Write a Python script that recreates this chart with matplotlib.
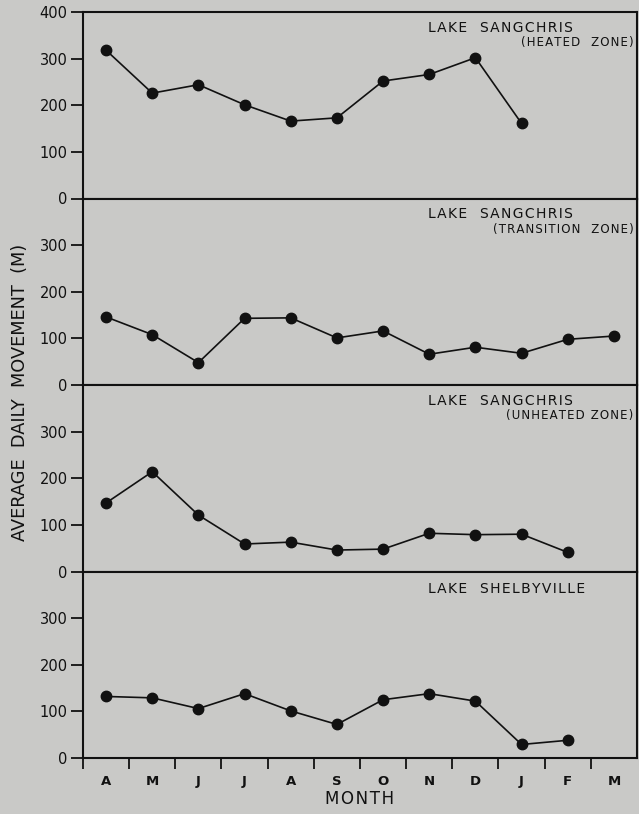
import matplotlib
matplotlib.use("Agg")
import matplotlib.pyplot as plt
import numpy as np

months = ["A", "M", "J", "J", "A", "S", "O", "N", "D", "J", "F", "M"]

heated = [318, 226, 244, 201, 166, 173, 252, 266, 302, 161]
transition = [146, 108, 48, 143, 144, 101, 116, 66, 81, 68, 98, 105]
unheated = [147, 214, 121, 59, 63, 46, 48, 82, 79, 80, 41]
shelbyville = [132, 129, 106, 138, 101, 72, 125, 138, 122, 29, 38]

panel_titles = [
    ("LAKE  SANGCHRIS", "(HEATED  ZONE)"),
    ("LAKE  SANGCHRIS", "(TRANSITION  ZONE)"),
    ("LAKE  SANGCHRIS", "(UNHEATED ZONE)"),
    ("LAKE  SHELBYVILLE", None),
]
series = [heated, transition, unheated, shelbyville]

bg = "#c9c9c7"
ink = "#111111"
plt.rcParams["font.family"] = ["DejaVu Sans"]


def spaced(s):
    # open up the lettering a little with hair spaces
    return "\u200a".join(s)


fig = plt.figure(figsize=(6.39, 8.14), dpi=100, facecolor=bg)
left, right = 83 / 639, 637 / 639
top, bottom = 1 - 12 / 814, 1 - 758 / 814
h = (top - bottom) / 4

axes = []
for i, vals in enumerate(series):
    y0 = top - (i + 1) * h
    ax = fig.add_axes([left, y0, right - left, h], facecolor=bg)
    axes.append(ax)
    x = np.arange(len(vals))
    ax.plot(x, vals, color=ink, lw=1.2, marker="o", ms=7.5,
            markerfacecolor=ink, markeredgecolor=ink)
    ax.set_xlim(-0.5, 11.5)
    ax.set_ylim(0, 400)
    ticks = [0, 100, 200, 300, 400] if i == 0 else [0, 100, 200, 300]
    ax.set_yticks(ticks)
    ax.set_yticklabels([str(t) for t in ticks], fontsize=10.5)
    ax.tick_params(axis="y", direction="out", length=9, width=1.3,
                   colors=ink, pad=2)
    for s in ax.spines.values():
        s.set_color(ink)
        s.set_linewidth(1.5)
    if i < 3:
        ax.set_xticks([])
    else:
        ax.set_xticks(np.arange(-0.5, 11.5, 1.0))
        ax.set_xticklabels([])
        ax.set_xticks(np.arange(12), minor=True)
        ax.set_xticklabels(months, minor=True, fontsize=9.5, fontweight="bold")
        ax.tick_params(axis="x", which="major", direction="out", length=8,
                       width=1.3, colors=ink)
        ax.tick_params(axis="x", which="minor", length=0, pad=12, colors=ink)
        ax.set_xlabel(spaced("MONTH"), fontsize=12, color=ink, labelpad=2)

for i, (t1, t2) in enumerate(panel_titles):
    ax = axes[i]
    ax.text(0.6225, 0.915 if t2 else 0.905, spaced(t1), transform=ax.transAxes,
            fontsize=10, color=ink, ha="left", va="center")
    if t2:
        ax.text(0.9935, 0.835, spaced(t2), transform=ax.transAxes,
                fontsize=8.5, color=ink, ha="right", va="center")

fig.text(20 / 639, 1 - 392 / 814, "AVERAGE  DAILY  MOVEMENT  (M)",
         rotation=90, ha="center", va="center", fontsize=12.8, color=ink)

fig.savefig("out.png", dpi=100, facecolor=bg)
